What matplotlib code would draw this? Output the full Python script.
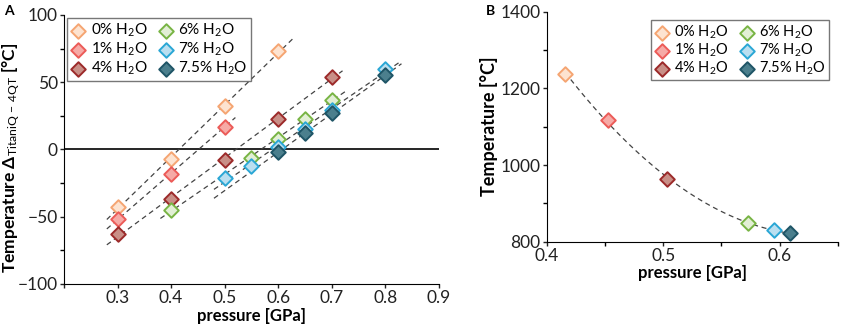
import numpy as np
import matplotlib
matplotlib.use("Agg")
import matplotlib.pyplot as plt
from matplotlib.ticker import MultipleLocator

plt.rcParams['font.family'] = ['Lato', 'DejaVu Sans']
plt.rcParams['mathtext.fontset'] = 'custom'
plt.rcParams['mathtext.rm'] = 'Lato'
plt.rcParams['mathtext.it'] = 'Lato'
plt.rcParams['mathtext.bf'] = 'Lato:bold'

# --- data, panel A: temperature difference vs pressure ---
labels = ['0% H$_2$O', '1% H$_2$O', '4% H$_2$O', '6% H$_2$O', '7% H$_2$O', '7.5% H$_2$O']
p_0 = [0.3, 0.4, 0.5, 0.6]
dT_0 = [-43, -7, 32, 73]
p_1 = [0.3, 0.4, 0.5]
dT_1 = [-52, -18, 17]
p_4 = [0.3, 0.4, 0.5, 0.6, 0.7]
dT_4 = [-63, -37, -8, 23, 54]
p_6 = [0.4, 0.55, 0.6, 0.65, 0.7]
dT_6 = [-45, -6, 8, 23, 37]
p_7 = [0.5, 0.55, 0.6, 0.65, 0.7, 0.8]
dT_7 = [-21, -12, 2, 15, 29, 60]
p_75 = [0.6, 0.65, 0.7, 0.8]
dT_75 = [-2, 12, 27, 55]

# --- data, panel B: intersection points ---
p_B = [0.416, 0.453, 0.503, 0.573, 0.595, 0.609]
T_B = [1237, 1117, 963, 850, 830, 822]

edge_colors = ['#f5a572', '#ec5b58', '#9c2a2a', '#78b444', '#2aa7d5', '#1f5566']
face_colors = ['#fde3d0', '#f6aaa6', '#c98f87', '#e2efd5', '#badff0', '#4b7f8d']

series = [(p_0, dT_0), (p_1, dT_1), (p_4, dT_4), (p_6, dT_6), (p_7, dT_7), (p_75, dT_75)]
# how far each fit line runs past the data (left, right)
line_ext = [(0.02, 0.03), (0.02, 0.02), (0.02, 0.02), (0.02, 0.03), (0.02, 0.03), (0.12, 0.03)]

fig = plt.figure(figsize=(8.45, 3.32), dpi=100)
axA = fig.add_axes([0.0757, 0.1446, 0.4438, 0.8104])
axB = fig.add_axes([0.647, 0.272, 0.3447, 0.693])

# --- panel A ---
axA.axhline(0, color='black', lw=1.2, zorder=1)
for (px, py), (lo, hi) in zip(series, line_ext):
    k, b = np.polyfit(px, py, 1)
    xs = np.array([min(px) - lo, max(px) + hi])
    axA.plot(xs, k * xs + b, ls=(0, (4, 3)), color='#444444', lw=0.9, zorder=2)
for (px, py), lab, ec, fc in zip(series, labels, edge_colors, face_colors):
    axA.scatter(px, py, marker='D', s=55, facecolor=fc, edgecolor=ec, linewidth=1.4,
                label=lab, zorder=3)

axA.set_xlim(0.2, 0.9)
axA.set_ylim(-100, 100)
axA.set_xticks(np.arange(0.2, 0.91, 0.1))
axA.set_xticklabels([''] + ['%.1f' % v for v in np.arange(0.3, 0.91, 0.1)])
axA.yaxis.set_major_locator(MultipleLocator(50))
axA.yaxis.set_minor_locator(MultipleLocator(25))
axA.spines['top'].set_visible(False)
axA.spines['right'].set_visible(False)
axA.tick_params(labelsize=12.5, length=3, width=1, colors='#222222', pad=1.5)
axA.tick_params(which='minor', length=3, width=1)
axA.set_xlabel('pressure [GPa]', fontsize=12, fontweight='bold', labelpad=1)
axA.set_ylabel(r'Temperature $\mathbf{\Delta}_{\mathrm{TitaniQ\,-\,4QT}}$ [°C]', fontsize=12.5,
               fontweight='bold')
axA.yaxis.set_label_coords(-0.112, 0.47)
axA.legend(ncol=2, loc='upper left', fontsize=11, frameon=True, fancybox=False,
           edgecolor='#555555', handlelength=1.0, handletextpad=0.3, columnspacing=0.7,
           labelspacing=0.1, borderpad=0.25, borderaxespad=0.2)
fig.text(0.005, 0.955, 'A', fontsize=10, fontweight='bold')

# --- panel B ---
c2 = np.polyfit(p_B, T_B, 2)
xc = np.linspace(p_B[0], p_B[-1], 100)
axB.plot(xc, np.polyval(c2, xc), ls=(0, (4, 3)), color='#444444', lw=0.9, zorder=2)
for x, y, lab, ec, fc in zip(p_B, T_B, labels, edge_colors, face_colors):
    axB.scatter([x], [y], marker='D', s=55, facecolor=fc, edgecolor=ec, linewidth=1.4,
                label=lab, zorder=3)

axB.set_xlim(0.4, 0.65)
axB.set_ylim(800, 1400)
axB.xaxis.set_major_locator(MultipleLocator(0.1))
axB.xaxis.set_minor_locator(MultipleLocator(0.05))
axB.yaxis.set_major_locator(MultipleLocator(200))
axB.yaxis.set_minor_locator(MultipleLocator(100))
axB.spines['top'].set_visible(False)
axB.spines['right'].set_visible(False)
axB.tick_params(labelsize=12.5, length=3, width=1, colors='#222222', pad=1.5)
axB.tick_params(which='minor', length=3, width=1)
axB.set_xlabel('pressure [GPa]', fontsize=12, fontweight='bold', labelpad=1)
axB.set_ylabel('Temperature [°C]', fontsize=13, fontweight='bold', labelpad=2)
axB.legend(ncol=2, loc='upper right', fontsize=10.5, frameon=True, fancybox=False,
           edgecolor='#555555', handlelength=1.0, handletextpad=0.3, columnspacing=0.8,
           labelspacing=0.02, borderpad=0.25, borderaxespad=0.6)
fig.text(0.575, 0.955, 'B', fontsize=10, fontweight='bold')

fig.savefig('out.png', dpi=100)
